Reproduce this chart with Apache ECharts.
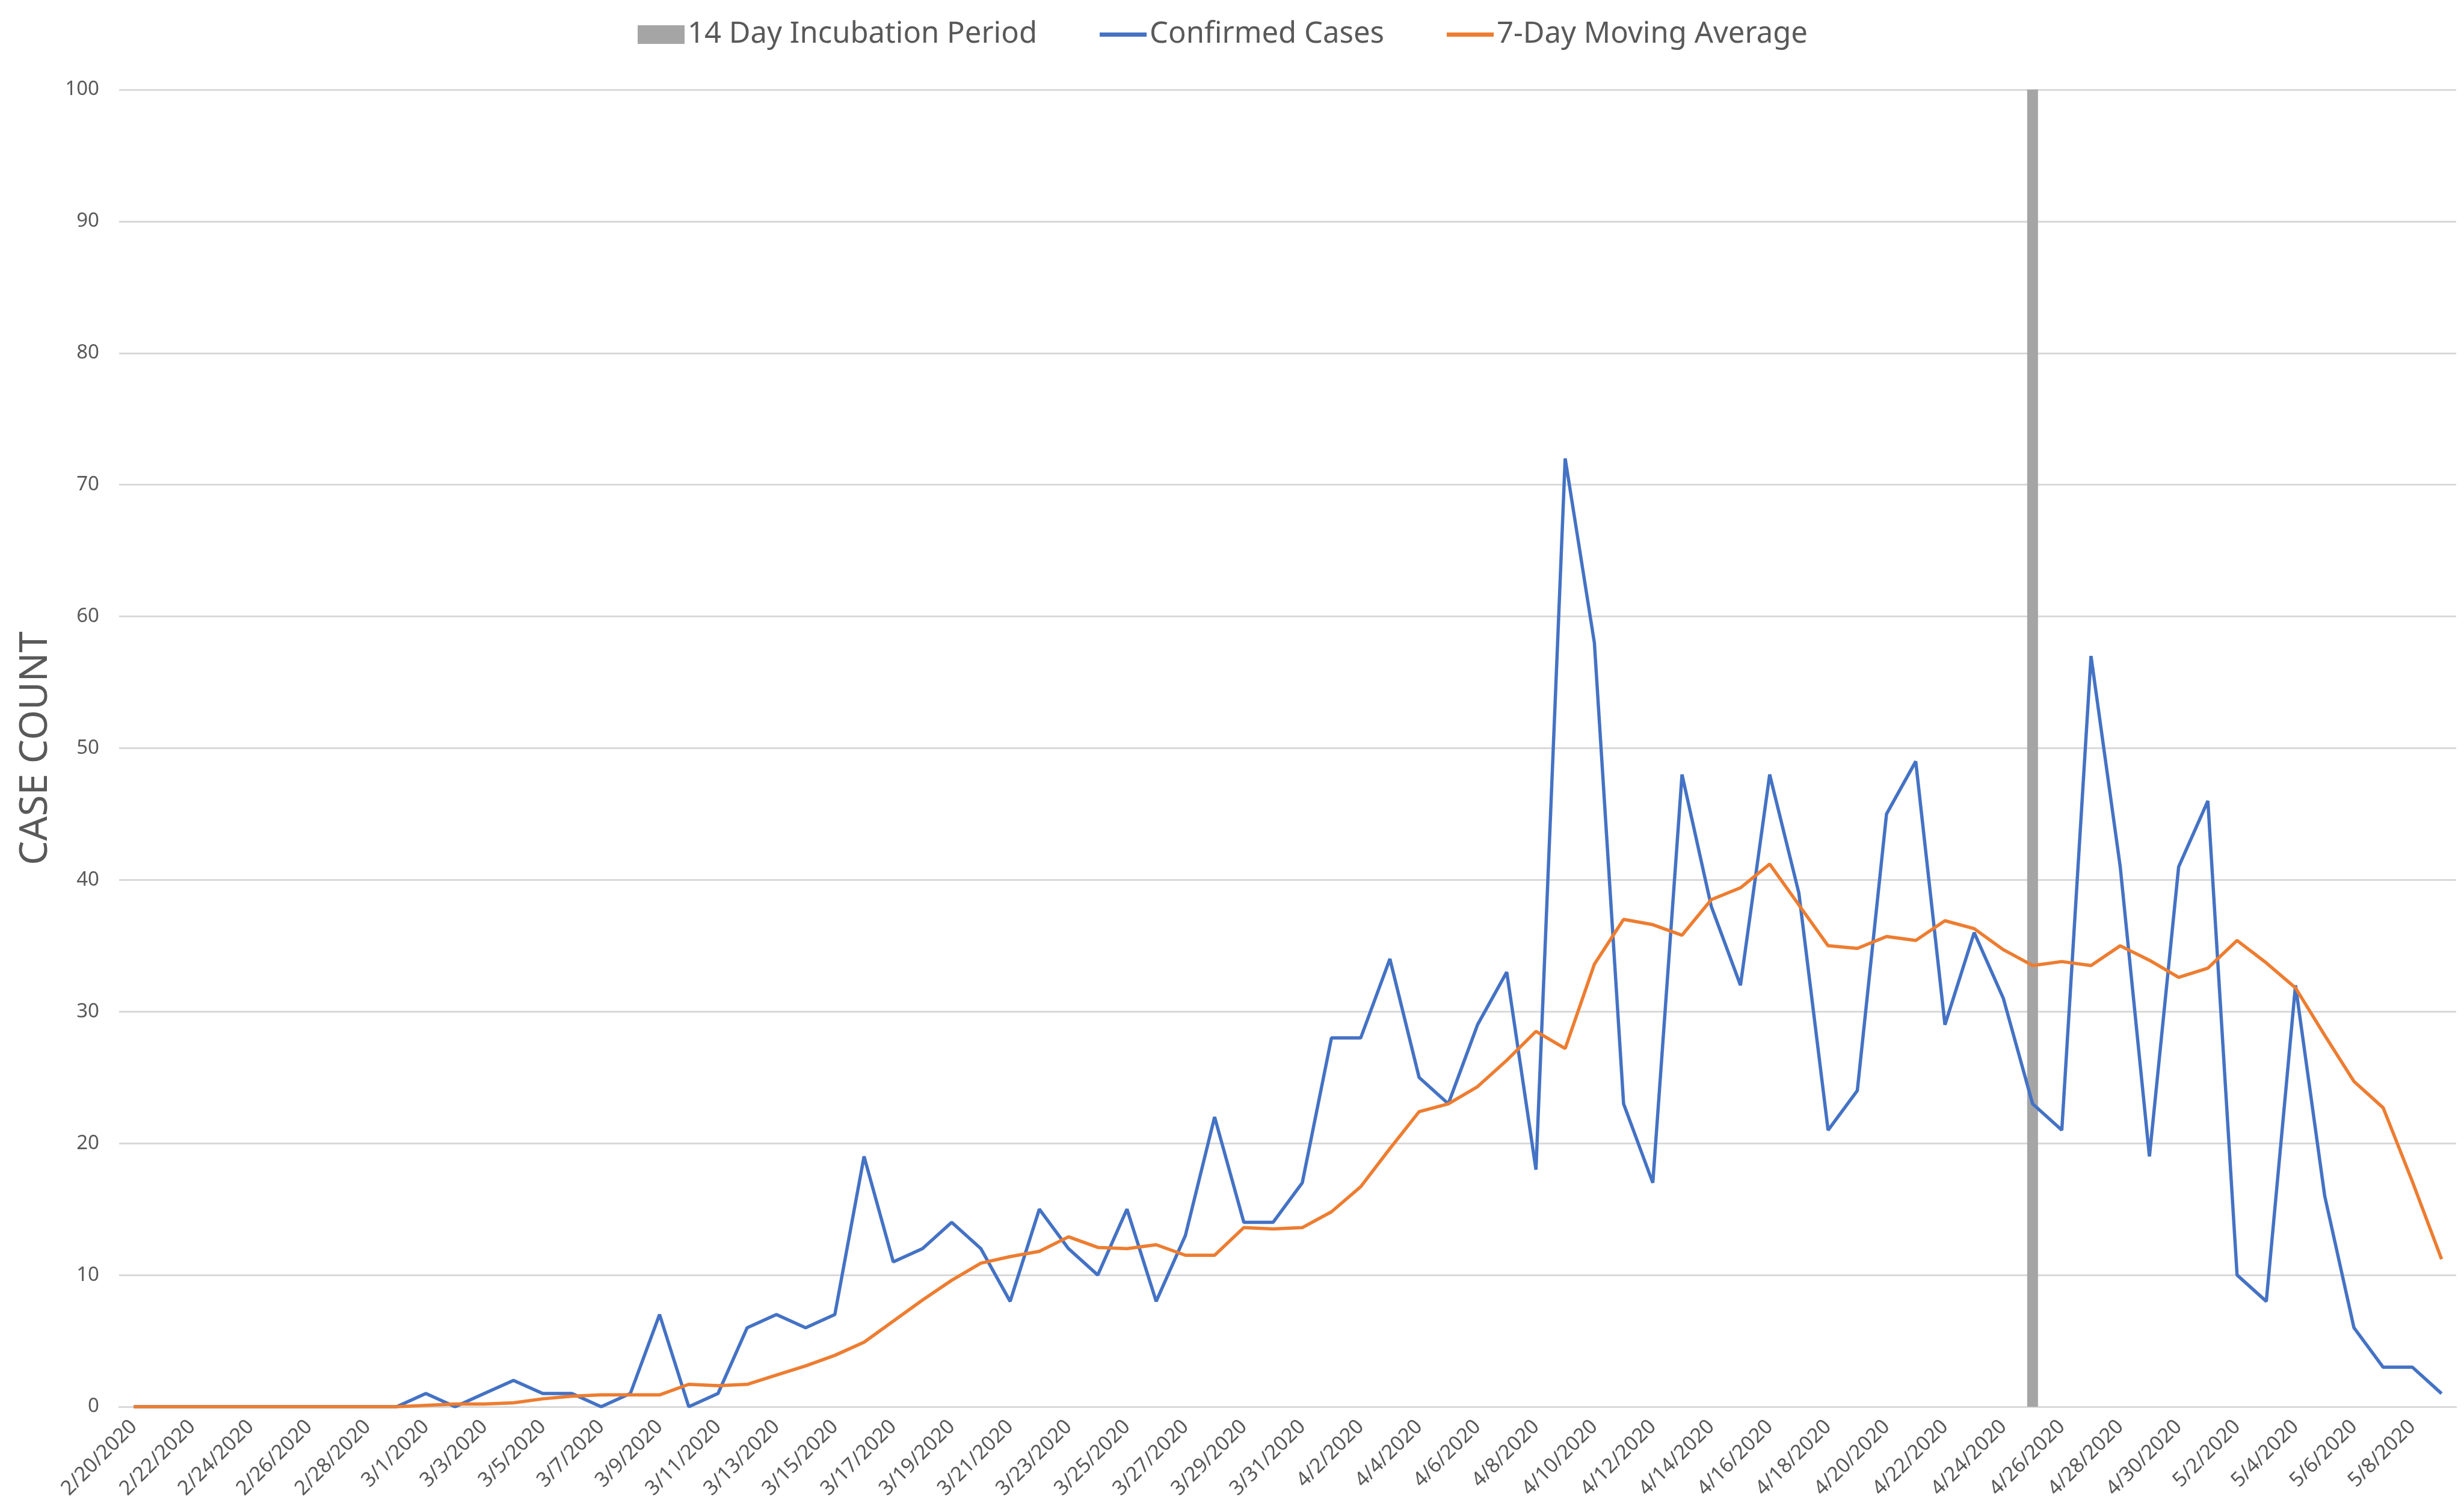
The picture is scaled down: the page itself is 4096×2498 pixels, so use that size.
<!DOCTYPE html>
<html>
<head>
<meta charset="utf-8">
<title>Confirmed Cases</title>
<script src="https://cdn.jsdelivr.net/npm/echarts@6/dist/echarts.min.js"></script>
<style>
    html, body { margin: 0; padding: 0; background: #fff; }
    #chart { width: 4096px; height: 2498px; }
</style>
</head>
<body>
<div id="chart"></div>
<script>
// x axis dates
const categories = [
    '2/20/2020', '2/21/2020', '2/22/2020', '2/23/2020', '2/24/2020', '2/25/2020', '2/26/2020', '2/27/2020', '2/28/2020', '2/29/2020',
    '3/1/2020', '3/2/2020', '3/3/2020', '3/4/2020', '3/5/2020', '3/6/2020', '3/7/2020', '3/8/2020', '3/9/2020', '3/10/2020',
    '3/11/2020', '3/12/2020', '3/13/2020', '3/14/2020', '3/15/2020', '3/16/2020', '3/17/2020', '3/18/2020', '3/19/2020', '3/20/2020',
    '3/21/2020', '3/22/2020', '3/23/2020', '3/24/2020', '3/25/2020', '3/26/2020', '3/27/2020', '3/28/2020', '3/29/2020', '3/30/2020',
    '3/31/2020', '4/1/2020', '4/2/2020', '4/3/2020', '4/4/2020', '4/5/2020', '4/6/2020', '4/7/2020', '4/8/2020', '4/9/2020',
    '4/10/2020', '4/11/2020', '4/12/2020', '4/13/2020', '4/14/2020', '4/15/2020', '4/16/2020', '4/17/2020', '4/18/2020', '4/19/2020',
    '4/20/2020', '4/21/2020', '4/22/2020', '4/23/2020', '4/24/2020', '4/25/2020', '4/26/2020', '4/27/2020', '4/28/2020', '4/29/2020',
    '4/30/2020', '5/1/2020', '5/2/2020', '5/3/2020', '5/4/2020', '5/5/2020', '5/6/2020', '5/7/2020', '5/8/2020', '5/9/2020'
];

const confirmedCases = [
    0, 0, 0, 0, 0, 0, 0, 0, 0, 0,
    1, 0, 1, 2, 1, 1, 0, 1, 7, 0,
    1, 6, 7, 6, 7, 19, 11, 12, 14, 12,
    8, 15, 12, 10, 15, 8, 13, 22, 14, 14,
    17, 28, 28, 34, 25, 23, 29, 33, 18, 72,
    58, 23, 17, 48, 38, 32, 48, 39, 21, 24,
    45, 49, 29, 36, 31, 23, 21, 57, 41, 19,
    41, 46, 10, 8, 32, 16, 6, 3, 3, 1
];

const movingAverage = [
    0, 0, 0, 0, 0, 0, 0, 0, 0, 0,
    0.1, 0.2, 0.2, 0.3, 0.6, 0.8, 0.9, 0.9, 0.9, 1.7,
    1.6, 1.7, 2.4, 3.1, 3.9, 4.9, 6.5, 8.1, 9.6, 10.9,
    11.4, 11.8, 12.9, 12.1, 12.0, 12.3, 11.5, 11.5, 13.6, 13.5,
    13.6, 14.8, 16.7, 19.6, 22.4, 23.0, 24.3, 26.3, 28.5, 27.2,
    33.6, 37.0, 36.6, 35.8, 38.5, 39.4, 41.2, 38.1, 35.0, 34.8,
    35.7, 35.4, 36.9, 36.3, 34.7, 33.5, 33.8, 33.5, 35.0, 33.9,
    32.6, 33.3, 35.4, 33.7, 31.8, 28.2, 24.7, 22.7, 17.1, 11.2
];

// incubation marker: single full-height bar on 4/25
const incubation = categories.map(function (d) {
    return d === '4/25/2020' ? 100 : null;
});

const yTicks = { min: 0, max: 100, interval: 10 };

const font = 'Noto Sans';
const textColor = '#595959';
// flat bar used as legend icon for the two lines
const lineIcon = 'path://M0,0H78V7H0Z';

const myChart = echarts.init(document.getElementById('chart'));

let option = {
    animation: false,
    textStyle: { fontFamily: font },
    legend: {
        top: 28,
        left: 1055,
        itemWidth: 78,
        itemHeight: 31,
        itemGap: 104,
        textStyle: { fontSize: 49, color: textColor, fontFamily: font },
        data: [
            { name: '14 Day Incubation Period', icon: 'rect' },
            { name: 'Confirmed Cases', icon: lineIcon },
            { name: '7-Day Moving Average', icon: lineIcon }
        ]
    },
    grid: {
        left: 198,
        right: 13,
        top: 149,
        bottom: 160
    },
    xAxis: {
        type: 'category',
        data: categories,
        boundaryGap: true,
        axisLine: { lineStyle: { color: '#d9d9d9', width: 3 } },
        axisTick: { show: false },
        axisLabel: {
            interval: 1,
            rotate: 45,
            margin: 28,
            fontSize: 34,
            color: textColor,
            fontFamily: font
        }
    },
    yAxis: {
        type: 'value',
        min: yTicks.min,
        max: yTicks.max,
        interval: yTicks.interval,
        name: 'CASE COUNT',
        nameLocation: 'middle',
        nameRotate: 90,
        nameGap: 106,
        nameTextStyle: { fontSize: 64, color: textColor, fontFamily: font },
        axisLine: { show: false },
        axisTick: { show: false },
        axisLabel: { fontSize: 33, margin: 33, color: textColor, fontFamily: font },
        splitLine: { lineStyle: { color: '#d9d9d9', width: 3 } }
    },
    series: [
        {
            name: '14 Day Incubation Period',
            type: 'bar',
            data: incubation,
            barWidth: 18,
            itemStyle: { color: '#a5a5a5' }
        },
        {
            name: 'Confirmed Cases',
            type: 'line',
            data: confirmedCases,
            symbol: 'none',
            lineStyle: { color: '#4472c4', width: 5.5 },
            itemStyle: { color: '#4472c4' }
        },
        {
            name: '7-Day Moving Average',
            type: 'line',
            data: movingAverage,
            symbol: 'none',
            lineStyle: { color: '#ed7d31', width: 5.5 },
            itemStyle: { color: '#ed7d31' }
        }
    ]
};

myChart.setOption(option);
</script>
</body>
</html>
